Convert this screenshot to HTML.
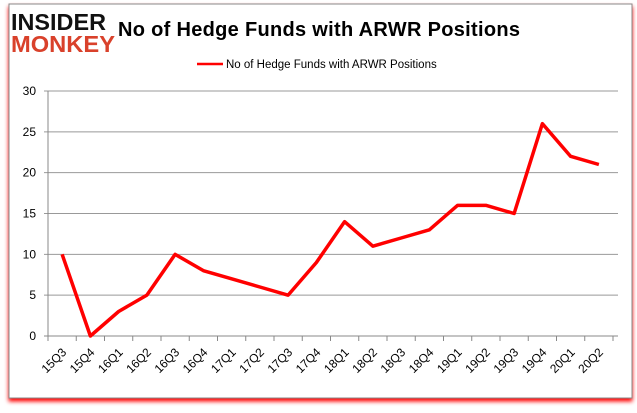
<!DOCTYPE html>
<html><head><meta charset="utf-8"><style>
body{margin:0;background:#fff;width:637px;height:408px;overflow:hidden;font-family:"Liberation Sans",sans-serif}
</style></head><body>
<svg width="637" height="408">
<rect x="9" y="4" width="623" height="394" fill="#fff" stroke="#888" stroke-width="1" style="filter:drop-shadow(0 3px 2px #f00)"/>
<g>
<text x="11" y="30" font-size="23" font-weight="bold" fill="#111" font-family="Liberation Sans" textLength="95" lengthAdjust="spacingAndGlyphs">INSIDER</text>
<text x="11" y="52" font-size="23" font-weight="bold" fill="#d9412b" font-family="Liberation Sans" textLength="104" lengthAdjust="spacingAndGlyphs">MONKEY</text>
</g>
<text x="118" y="36" font-size="20" font-weight="bold" fill="#000" textLength="402">No of Hedge Funds with ARWR Positions</text>
<line x1="197" y1="64" x2="223" y2="64" stroke="#f00" stroke-width="2.5"/>
<text x="226" y="68" font-size="11.5" fill="#000">No of Hedge Funds with ARWR Positions</text>
<g id="axes"></g>
<polyline id="series" fill="none" stroke="#f00" stroke-width="3.5" stroke-linejoin="round"/>
</svg>
<script>
const categories=["15Q3","15Q4","16Q1","16Q2","16Q3","16Q4","17Q1","17Q2","17Q3","17Q4","18Q1","18Q2","18Q3","18Q4","19Q1","19Q2","19Q3","19Q4","20Q1","20Q2"];
const values=[10,0,3,5,10,8,7,6,5,9,14,11,12,13,16,16,15,26,22,21];
const yTicks=[0,5,10,15,20,25,30];
const L=48,R=613,T=91,B=336,ymax=30;
const bw=(R-L)/categories.length;
const x=i=>L+bw*(i+0.5);
const y=v=>B-(v/ymax)*(B-T);
const ns="http://www.w3.org/2000/svg";
const g=document.getElementById('axes');
function mk(t,a){const e=document.createElementNS(ns,t);for(const k in a)e.setAttribute(k,a[k]);g.appendChild(e);return e;}
yTicks.forEach(v=>{
const ln=mk('line',{x1:L-4,x2:R+5,y1:y(v),y2:y(v),stroke:v===0?'#888':'#999','stroke-width':1});


const t=mk('text',{x:L-12,y:y(v)+4,'font-size':12,'text-anchor':'end',fill:'#000'});
t.textContent=v;


});
const ya=mk('line',{x1:L,x2:L,y1:T,y2:B,stroke:'#888'});


for(let i=0;i<=categories.length;i++){
const tk=mk('line',{x1:L+bw*i,x2:L+bw*i,y1:B,y2:B+5,stroke:'#888'});


}
categories.forEach((c,i)=>{
const cx=x(i)+5,cy=B+17;
const t=mk('text',{x:cx,y:cy,'font-size':12,'text-anchor':'end',fill:'#000',transform:`rotate(-45 ${cx} ${cy})`});
t.textContent=c;


});
document.getElementById('series').setAttribute('points',values.map((v,i)=>x(i)+','+y(v)).join(' '));
</script>
</body></html>
